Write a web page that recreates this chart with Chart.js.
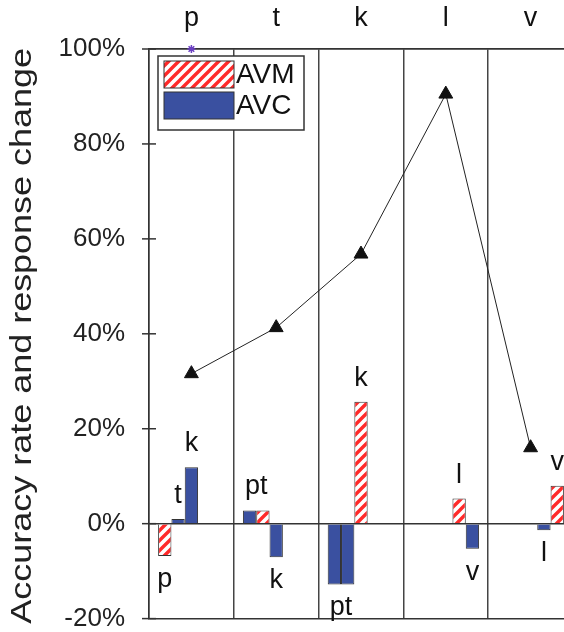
<!DOCTYPE html>
<html><head><meta charset="utf-8">
<script src="https://cdn.jsdelivr.net/npm/chart.js@4.4.0/dist/chart.umd.min.js"></script>
<style>html,body{margin:0;padding:0;overflow:hidden;background:#fff;width:564px;height:632px}canvas{display:block;position:absolute;left:0;top:0}</style>
</head><body><canvas id="c" width="582" height="632"></canvas>
<script>
// ---- data ----
const categories = ['p', 't', 'k', 'l', 'v'];
const accuracy = [31.6, 41.3, 56.8, 90.5, 16.0];
const avm = [-6.8, 2.8, 25.7, 5.3, 8.0];          // correct response (diagonal)
const avcP = [null, 2.8, -12.8, null, null];     // response p
const avcT = [1.0, null, -12.8, null, null];     // response t
const avcK = [11.9, -7.1, null, null, null];     // response k
const avcL = [null, null, null, null, -1.4];     // response l
const avcV = [null, null, null, -5.3, null];     // response v
const starMark = [100, null, null, null, null];
const yTicks = [-20, 0, 20, 40, 60, 80, 100];
const legendLabels = ['AVM', 'AVC'];
const yTitle = 'Accuracy rate and response change';
// [category index, response slots, text]
const barLabels = [[0,[0],'p'],[0,[1],'t'],[0,[2],'k'],[1,[0,1],'pt'],[1,[2],'k'],
                   [2,[0,1],'pt'],[2,[2],'k'],[3,[3],'l'],[3,[4],'v'],[4,[3],'l'],[4,[4],'v']];

const FONT = "'Liberation Sans', Arial, sans-serif";
const BLUE = '#3a50a0';
const INK = '#222';

function makePattern() {
  const s = 10, c = document.createElement('canvas');
  c.width = s; c.height = s;
  const g = c.getContext('2d');
  g.fillStyle = '#fff'; g.fillRect(0, 0, s, s);
  g.strokeStyle = '#ff2a2a'; g.lineWidth = 3.4;
  g.beginPath();
  g.moveTo(-s, s); g.lineTo(s, -s);
  g.moveTo(0, 2 * s); g.lineTo(2 * s, 0);
  g.moveTo(0, s); g.lineTo(s, 0);
  g.stroke();
  return document.getElementById('c').getContext('2d').createPattern(c, 'repeat');
}
const hatch = makePattern();

const avcRows = [avcP, avcT, avcK, avcL, avcV];
const barSets = avcRows.map((row, i) => ({
  type: 'bar',
  label: 'slot ' + categories[i],
  data: row.map((v, j) => (j === i ? avm[j] : v)),
  backgroundColor: row.map((v, j) => (j === i ? hatch : BLUE)),
  borderColor: '#333',
  borderWidth: 1,
  categoryPercentage: 0.785,
  barPercentage: 1,
  order: 2
}));

const lineSet = {
  type: 'line', label: 'Accuracy', data: accuracy,
  borderColor: INK, borderWidth: 1, fill: false, tension: 0,
  pointStyle: 'triangle', pointRadius: 8, pointBackgroundColor: '#111', pointBorderColor: '#111',
  pointBorderWidth: 1, order: 0, clip: false
};
const starSet = {
  type: 'line', label: 'mark', data: starMark, showLine: false,
  pointStyle: 'star', pointRadius: 4, borderColor: '#6b3fc2', pointBorderWidth: 1.5,
  order: 0, clip: false
};

const crossTicks = {
  id: 'crossTicks',
  afterDraw(chart) {
    const y = chart.scales.y, ctx = chart.ctx, L = chart.chartArea.left;
    ctx.save(); ctx.strokeStyle = '#333'; ctx.lineWidth = 1.5;
    yTicks.forEach(v => {
      const py = y.getPixelForValue(v);
      ctx.beginPath(); ctx.moveTo(L - 7, py); ctx.lineTo(L + 7, py); ctx.stroke();
    });
    ctx.restore();
  }
};

const labelPlugin = {
  id: 'barLabels',
  afterDatasetsDraw(chart) {
    const ctx = chart.ctx;
    ctx.save();
    ctx.font = '27px ' + FONT; ctx.fillStyle = '#111'; ctx.textAlign = 'center';
    barLabels.forEach(([cat, slots, text]) => {
      let xs = 0, yTop = Infinity, yBot = -Infinity, val = 0;
      slots.forEach(s => {
        const el = chart.getDatasetMeta(s).data[cat];
        xs += el.x; val = chart.data.datasets[s].data[cat];
        yTop = Math.min(yTop, el.y); yBot = Math.max(yBot, el.y);
      });
      const x = xs / slots.length;
      if (val >= 0) { ctx.textBaseline = 'alphabetic'; ctx.fillText(text, x, yTop - 16); }
      else { ctx.textBaseline = 'top'; ctx.fillText(text, x, yBot + 10); }
    });
    ctx.restore();
  }
};

const legendPlugin = {
  id: 'boxLegend',
  afterDatasetsDraw(chart) {
    const ctx = chart.ctx, a = chart.chartArea;
    const L = a.left + 9, T = a.top + 7, W = 146, H = 74;
    ctx.save();
    ctx.fillStyle = '#fff'; ctx.fillRect(L, T, W, H);
    ctx.strokeStyle = '#333'; ctx.lineWidth = 1.5; ctx.strokeRect(L, T, W, H);
    const fills = [hatch, BLUE];
    ctx.font = '28px ' + FONT; ctx.textBaseline = 'middle'; ctx.textAlign = 'left';
    legendLabels.forEach((t, i) => {
      const by = T + 5 + i * 31;
      ctx.fillStyle = fills[i]; ctx.fillRect(L + 6, by, 70, 27);
      ctx.strokeStyle = '#333'; ctx.lineWidth = 1; ctx.strokeRect(L + 6, by, 70, 27);
      ctx.fillStyle = '#111'; ctx.fillText(t, L + 78, by + 14);
    });
    ctx.restore();
  }
};

const titlePlugin = {
  id: 'yTitle',
  afterDraw(chart) {
    const ctx = chart.ctx, a = chart.chartArea;
    ctx.save();
    ctx.translate(23, (a.top + a.bottom) / 2 + 2);
    ctx.rotate(-Math.PI / 2);
    ctx.scale(1.24, 1);
    ctx.font = '29px ' + FONT; ctx.fillStyle = INK;
    ctx.textAlign = 'center'; ctx.textBaseline = 'middle';
    ctx.fillText(yTitle, 0, 0);
    ctx.restore();
  }
};

new Chart(document.getElementById('c'), {
  data: { labels: categories, datasets: [...barSets, lineSet, starSet] },
  options: {
    responsive: false, animation: false,
    layout: { autoPadding: false, padding: { left: 0, right: 9, top: 0, bottom: 0 } },
    plugins: { legend: { display: false }, tooltip: { enabled: false } },
    scales: {
      x: {
        type: 'category', position: 'top', offset: true,
        grid: { offset: true, color: '#444', lineWidth: 1.5, drawTicks: false },
        border: { color: '#333', width: 1.5 },
        ticks: { font: { family: FONT, size: 27 }, color: '#111', padding: 14 },
        afterFit(s) { s.height = 49; }
      },
      y: {
        min: -20, max: 100,
        afterBuildTicks(s) { s.ticks = yTicks.map(v => ({ value: v })); },
        ticks: { font: { family: FONT, size: 26, lineHeight: 0.8 }, color: INK, padding: 3, callback: v => v + '%' },
        grid: {
          color: c => ([-20, 0, 100].includes(c.tick && c.tick.value) ? '#333' : 'rgba(0,0,0,0)'),
          tickColor: 'rgba(0,0,0,0)', tickLength: 21, lineWidth: 1.5
        },
        border: { color: '#333', width: 1.5 },
        afterFit(s) { s.width = 149; }
      }
    }
  },
  plugins: [crossTicks, labelPlugin, legendPlugin, titlePlugin]
});
</script>
</body></html>
